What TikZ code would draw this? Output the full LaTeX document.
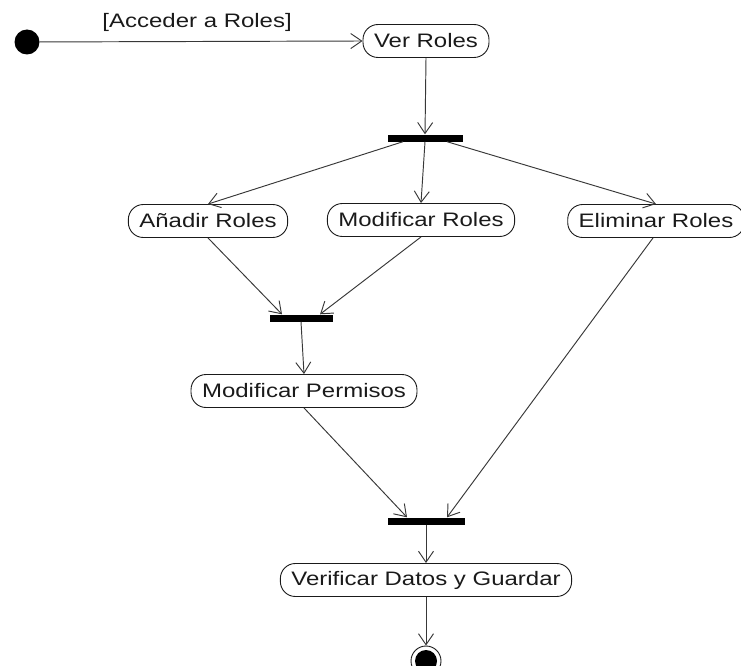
\documentclass[tikz,border=0pt]{standalone}
\usepackage{fontspec}
\newfontfamily\umlfont{Liberation Sans}[FakeStretch=1.23]
\usetikzlibrary{arrows.meta}
\definecolor{edgegray}{HTML}{383838}
\definecolor{inkgray}{HTML}{1A1A1A}
\tikzset{
  activity/.style={draw=inkgray, line width=0.9pt, rounded corners=15pt,
    minimum height=33pt, inner xsep=11pt, inner ysep=0pt,
    font=\umlfont\fontsize{19.5}{22}\selectfont, text=inkgray},
  syncbar/.style={fill=black, draw=none, minimum width=75pt, minimum height=7pt, inner sep=0pt},
  flow/.style={draw=edgegray, line width=0.95pt, -{Straight Barb[length=11pt,width=15pt,line width=0.95pt]}},
  guard/.style={font=\umlfont\fontsize{19.5}{22}\selectfont, text=inkgray, inner sep=0pt}
}
\begin{document}
\begin{tikzpicture}[x=1pt,y=-1pt]
  \useasboundingbox (0,0) rectangle (741,666);
  \clip (0,0) rectangle (741,666);

  % initial state and first activity
  \node[circle, fill=black, minimum size=25pt, inner sep=0pt] (start) at (27,42) {};
  \node[activity] (ver) at (426,41) {Ver Roles};
  \draw[flow] (start) -- (ver.west)
    node[guard, midway, above=9pt, xshift=-4pt] (cond) {[Acceder a Roles]};

  % fork into the three role actions
  \node[syncbar] (fork) at (425,138) {};
  \draw[flow] (ver.south) -- (fork.north);

  \node[activity] (anadir) at (208,221) {Añadir Roles};
  \node[activity] (modrol) at (421,220) {Modificar Roles};
  \node[activity] (elim)   at (656,221) {Eliminar Roles};

  \draw[flow] ([xshift=-22pt]fork.south) -- (anadir.north);
  \draw[flow] (fork.south) -- (modrol.north);
  \draw[flow] ([xshift=22pt]fork.south) -- (elim.north);

  % join of add / modify, then permissions
  \node[syncbar, minimum width=63pt] (joinA) at (301,318) {};
  \draw[flow] (anadir.south) -- ([xshift=-19pt]joinA.north);
  \draw[flow] (modrol.south) -- ([xshift=19pt]joinA.north);

  \node[activity] (perm) at (304,391) {Modificar Permisos};
  \draw[flow] (joinA.south) -- (perm.north);

  % final join, save, end state
  \node[syncbar, minimum width=77pt] (joinB) at (426,521) {};
  \draw[flow] (perm.south) -- ([xshift=-19pt]joinB.north);
  \draw[flow] ([xshift=-3pt]elim.south) -- ([xshift=21pt]joinB.north);

  \node[activity] (guardar) at (426,580) {Verificar Datos y Guardar};
  \draw[flow] (joinB.south) -- (guardar.north);

  \node[circle, draw=inkgray, line width=0.9pt, minimum size=30pt, inner sep=0pt] (fin) at (426,661) {};
  \fill[black] (fin.center) circle (11pt);
  \draw[flow] (guardar.south) -- (fin.north);
\end{tikzpicture}
\end{document}
